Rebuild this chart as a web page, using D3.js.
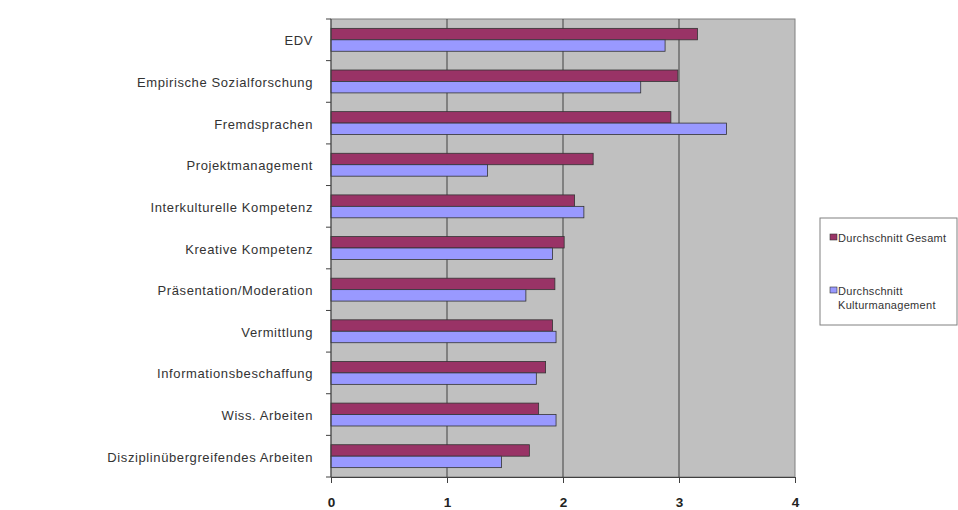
<!DOCTYPE html>
<html>
<head>
<meta charset="utf-8">
<script src="https://cdn.jsdelivr.net/npm/d3@7"></script>
<style>
  body { margin: 0; background: #fff; }
  svg { font-family: Arial, "Liberation Sans", sans-serif; }
</style>
</head>
<body>
<div id="chart"></div>
<script>
const categories = [
  "EDV",
  "Empirische Sozialforschung",
  "Fremdsprachen",
  "Projektmanagement",
  "Interkulturelle Kompetenz",
  "Kreative Kompetenz",
  "Präsentation/Moderation",
  "Vermittlung",
  "Informationsbeschaffung",
  "Wiss. Arbeiten",
  "Disziplinübergreifendes Arbeiten"
];
const seriesNames = ["Durchschnitt Gesamt", "Durchschnitt Kulturmanagement"];
const gesamt = [3.16, 2.99, 2.93, 2.26, 2.10, 2.01, 1.93, 1.91, 1.85, 1.79, 1.71];
const kultur = [2.88, 2.67, 3.41, 1.35, 2.18, 1.91, 1.68, 1.94, 1.77, 1.94, 1.47];
const xTicks = [0, 1, 2, 3, 4];

const width = 958, height = 510;
const margin = { top: 19, right: 163, bottom: 33, left: 331 };
const colors = ["#993366", "#9999FF"];

const svg = d3.select("#chart").append("svg")
  .attr("width", width)
  .attr("height", height);

const innerW = width - margin.left - margin.right;
const innerH = height - margin.top - margin.bottom;

const g = svg.append("g")
  .attr("transform", "translate(" + margin.left + "," + margin.top + ")");

const xScale = d3.scaleLinear().domain([0, 4]).range([0, innerW]);
const yScale = d3.scaleBand().domain(categories).range([0, innerH]).paddingInner(0.45).paddingOuter(0.225);
const ySub = d3.scaleBand().domain([0, 1]).range([0, yScale.bandwidth()]);

// plot background
g.append("rect")
  .attr("width", innerW)
  .attr("height", innerH)
  .attr("fill", "#C0C0C0")
  .attr("stroke", "#808080")
  .attr("stroke-width", 1);

// gridlines
g.selectAll(".grid")
  .data(xTicks.slice(1, -1))
  .enter()
  .append("line")
    .attr("x1", d => xScale(d))
    .attr("x2", d => xScale(d))
    .attr("y1", 0)
    .attr("y2", innerH)
    .attr("stroke", "#404040")
    .attr("stroke-width", 1);

// bars
const rows = categories.map((c, i) => ({ cat: c, vals: [gesamt[i], kultur[i]] }));

const groups = g.selectAll(".row")
  .data(rows)
  .enter()
  .append("g")
    .attr("transform", d => "translate(0," + yScale(d.cat) + ")");

groups.selectAll("rect")
  .data(d => d.vals.map((v, k) => ({ v: v, k: k })))
  .enter()
  .append("rect")
    .attr("x", 0)
    .attr("y", d => ySub(d.k))
    .attr("width", d => xScale(d.v))
    .attr("height", ySub.bandwidth())
    .attr("fill", d => colors[d.k])
    .attr("stroke", "#333")
    .attr("stroke-width", 0.8);

// x axis
const xAxis = g.append("g")
  .attr("transform", "translate(0," + innerH + ")")
  .call(d3.axisBottom(xScale).tickValues(xTicks).tickSize(6).tickPadding(14).tickFormat(d3.format("d")));
xAxis.select(".domain").attr("stroke", "#404040");
xAxis.selectAll("line").attr("stroke", "#404040");
xAxis.selectAll("text")
  .attr("font-size", 13.5)
  .attr("font-weight", "bold")
  .attr("fill", "#222");

// y axis: ticks at band boundaries
const bounds = d3.range(categories.length + 1).map(i => i * innerH / categories.length);
g.selectAll(".ytick")
  .data(bounds)
  .enter()
  .append("line")
    .attr("x1", -5)
    .attr("x2", 0)
    .attr("y1", d => d)
    .attr("y2", d => d)
    .attr("stroke", "#404040");
g.append("line")
  .attr("x1", 0).attr("x2", 0)
  .attr("y1", 0).attr("y2", innerH)
  .attr("stroke", "#404040");

g.selectAll(".ylabel")
  .data(categories)
  .enter()
  .append("text")
    .attr("x", -18)
    .attr("y", d => yScale(d) + yScale.bandwidth() / 2 + 1)
    .attr("dy", "0.35em")
    .attr("text-anchor", "end")
    .attr("font-size", 13)
    .attr("letter-spacing", 0.6)
    .attr("fill", "#333")
    .text(d => d);

// legend
const legend = svg.append("g").attr("transform", "translate(820,218)");
legend.append("rect")
  .attr("width", 137)
  .attr("height", 107)
  .attr("fill", "#fff")
  .attr("stroke", "#808080");

const legendLines = [["Durchschnitt Gesamt"], ["Durchschnitt", "Kulturmanagement"]];
const legendY = [20, 73];
seriesNames.forEach((name, k) => {
  legend.append("rect")
    .attr("x", 10)
    .attr("y", legendY[k] - 4)
    .attr("width", 7)
    .attr("height", 6)
    .attr("fill", colors[k])
    .attr("stroke", "#333")
    .attr("stroke-width", 0.6);
  const t = legend.append("text")
    .attr("x", 18)
    .attr("y", legendY[k])
    .attr("font-size", 11)
    .attr("letter-spacing", 0.3)
    .attr("fill", "#333");
  legendLines[k].forEach((line, j) => {
    t.append("tspan")
      .attr("x", 18)
      .attr("dy", j === 0 ? "0.35em" : "1.3em")
      .text(line);
  });
});
</script>
</body>
</html>
